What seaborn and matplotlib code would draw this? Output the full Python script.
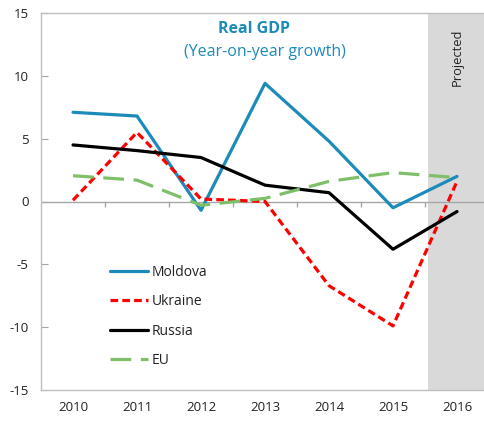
import numpy as np
import pandas as pd
import matplotlib
matplotlib.use('Agg')
import matplotlib.pyplot as plt
import seaborn as sns

years = ['2010', '2011', '2012', '2013', '2014', '2015', '2016']
moldova = [7.1, 6.8, -0.7, 9.4, 4.8, -0.5, 2.0]
ukraine = [0.1, 5.5, 0.2, 0.0, -6.7, -9.9, 1.6]
russia = [4.5, 4.05, 3.5, 1.3, 0.7, -3.8, -0.8]
eu = [2.05, 1.7, -0.3, 0.25, 1.6, 2.3, 1.9]

series = ['Moldova', 'Ukraine', 'Russia', 'EU']
colors = {'Moldova': '#1d8bb9', 'Ukraine': '#ff0000', 'Russia': '#000000', 'EU': '#80bf6a'}
dashes = {'Moldova': '', 'Ukraine': (2.4, 1.3), 'Russia': '', 'EU': (6.5, 3.0)}

df = pd.DataFrame({
    'x': list(range(len(years))) * 4,
    'value': moldova + ukraine + russia + eu,
    'country': [c for c in series for _ in years],
})

sns.set_style('white')
plt.rcParams['font.family'] = ['Open Sans', 'DejaVu Sans']
plt.rcParams['axes.unicode_minus'] = False

fig = plt.figure(figsize=(4.84, 4.21), dpi=100)
ax = fig.add_axes([41 / 484, 1 - 390 / 421, 448 / 484, 377 / 421])

# projected period
ax.axvspan(5.54, len(years) - 0.5, color='#d9d9d9', lw=0, zorder=0)
ax.text(6.0, 13.8, 'Projected', rotation=90, ha='center', va='top',
        fontsize=9.3, color='#222222')

ax.axhline(0, color='#a6a6a6', lw=1, zorder=1)
bounds = np.arange(len(years) - 1) + 0.5
ax.vlines(bounds, -0.45, 0, color='#a6a6a6', lw=1, zorder=1)

sns.lineplot(data=df, x='x', y='value', hue='country', style='country',
             palette=colors, dashes=dashes, hue_order=series, style_order=series,
             lw=2.3, ax=ax, zorder=3)

ax.set_xlim(-0.5, len(years) - 0.5)
ax.set_ylim(-15, 15)
ax.set_yticks(range(-15, 16, 5))
ax.set_xticks(range(len(years)))
ax.set_xticklabels(years)
ax.set_xlabel('')
ax.set_ylabel('')
ax.tick_params(axis='y', direction='in', length=5, color='#a6a6a6', labelsize=9.5,
               labelcolor='#222222', pad=9, left=True)
ax.tick_params(axis='x', length=0, labelsize=9.5, labelcolor='#222222', pad=8)
for s in ax.spines.values():
    s.set_color('#bfbfbf')
    s.set_linewidth(1)

ax.text(2.83, 13.75, 'Real GDP', ha='center', va='center', fontsize=11.5,
        fontweight='bold', color='#1d8bb9')
ax.text(3.0, 11.9, '(Year-on-year growth)', ha='center', va='center',
        fontsize=11.5, color='#1d8bb9')

leg = ax.legend(loc='center left', bbox_to_anchor=(0.125, 0.195), frameon=False,
                fontsize=10, handlelength=2.8, handletextpad=0.25, labelspacing=1.05)
for t in leg.get_texts():
    t.set_color('#222222')

fig.savefig('out.png', dpi=100)
